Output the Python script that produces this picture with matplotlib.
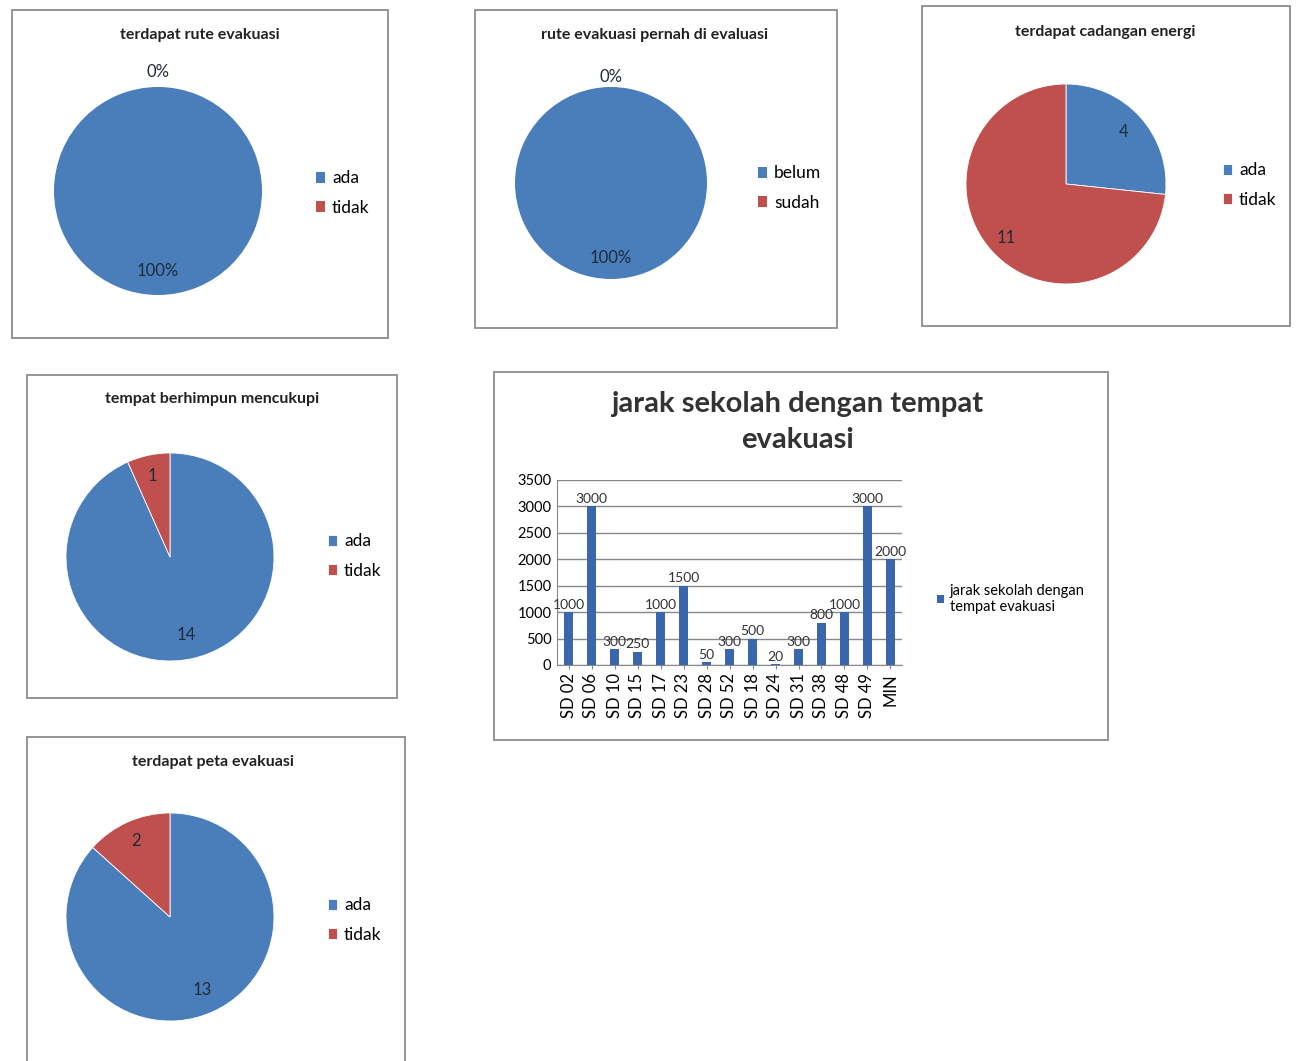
import matplotlib
matplotlib.use("Agg")
import matplotlib.pyplot as plt
from matplotlib.patches import Rectangle
import numpy as np

plt.rcParams['font.family'] = ['Lato', 'DejaVu Sans']

W, H = 1298, 1061
BLUE = '#4A7EBB'
RED = '#C0504D'
BAR_BLUE = '#3A66AC'

# --- data ---
rute_names = ['ada', 'tidak']
rute_vals = [100, 0]
evaluasi_names = ['belum', 'sudah']
evaluasi_vals = [100, 0]
energi_names = ['ada', 'tidak']
energi_vals = [4, 11]
himpun_names = ['ada', 'tidak']
himpun_vals = [14, 1]
peta_names = ['ada', 'tidak']
peta_vals = [13, 2]

sekolah = ['SD 02', 'SD 06', 'SD 10', 'SD 15', 'SD 17', 'SD 23', 'SD 28', 'SD 52',
           'SD 18', 'SD 24', 'SD 31', 'SD 38', 'SD 48', 'SD 49', 'MIN']
jarak = [1000, 3000, 300, 250, 1000, 1500, 50, 300, 500, 20, 300, 800, 1000, 3000, 2000]


def fx(x):
    return x / W


def fy(y):
    return 1 - y / H


fig = plt.figure(figsize=(W / 100, H / 100), dpi=100)


def box(x0, y0, x1, y1):
    fig.add_artist(Rectangle((fx(x0), fy(y1)), fx(x1) - fx(x0), fy(y0) - fy(y1),
                             transform=fig.transFigure, fill=False,
                             edgecolor='#8c8c8c', linewidth=1.3))


def pie_panel(bx, title, title_xy, cx, cy, r, names, vals, texts, dists, legend_xy):
    box(*bx)
    fig.text(fx(title_xy[0]), fy(title_xy[1]), title, ha='center', va='center',
             fontsize=11.5, fontweight='bold', color='#222222')
    ax = fig.add_axes([fx(cx - r), fy(cy + r), 2 * r / W, 2 * r / H])
    lw = 0 if min(vals) == 0 else 0.6
    wedges, _ = ax.pie(vals, colors=[BLUE, RED], startangle=90, counterclock=False,
                       wedgeprops=dict(edgecolor='white', linewidth=lw))
    ax.set_xlim(-1, 1)
    ax.set_ylim(-1, 1)
    for w, t, d in zip(wedges, texts, dists):
        ang = np.deg2rad((w.theta1 + w.theta2) / 2)
        ax.text(d * np.cos(ang), d * np.sin(ang), t, ha='center', va='center',
                fontsize=12, color='#1f2a3a')
    fig.legend(wedges, names, loc='center left',
               bbox_to_anchor=(fx(legend_xy[0]), fy(legend_xy[1])),
               frameon=False, fontsize=12.5, handlelength=0.55, handleheight=0.55,
               handletextpad=0.4, labelspacing=0.75)


pie_panel((12, 10, 388, 338), 'terdapat rute evakuasi', (200, 35), 158, 191, 104,
          rute_names, rute_vals, ['100%', '0%'], [0.77, 1.14], (300, 193))
pie_panel((475, 10, 837, 328), 'rute evakuasi pernah di evaluasi', (655, 35), 611, 183, 96,
          evaluasi_names, evaluasi_vals, ['100%', '0%'], [0.78, 1.1], (742, 188))
pie_panel((922, 6, 1290, 326), 'terdapat cadangan energi', (1105, 32), 1066, 184, 100,
          energi_names, energi_vals, [str(v) for v in energi_vals], [0.78, 0.8], (1207, 185))
pie_panel((27, 375, 397, 698), 'tempat berhimpun mencukupi', (212, 399), 170, 557, 104,
          himpun_names, himpun_vals, [str(v) for v in himpun_vals], [0.77, 0.8], (312, 556))
pie_panel((27, 737, 405, 1075), 'terdapat peta evakuasi', (213, 762), 170, 917, 104,
          peta_names, peta_vals, [str(v) for v in peta_vals], [0.77, 0.8], (312, 920))

# --- bar chart ---
box(494, 372, 1108, 740)
fig.text(fx(797), fy(422), 'jarak sekolah dengan tempat\nevakuasi', ha='center', va='center',
         fontsize=21, fontweight='bold', color='#333333', linespacing=1.5)
ax = fig.add_axes([fx(557), fy(665), (902 - 557) / W, (665 - 480) / H])
bars = ax.bar(range(len(sekolah)), jarak, width=0.4, color=BAR_BLUE,
              label='jarak sekolah dengan\ntempat evakuasi')
ax.bar_label(bars, fontsize=10, padding=1, color='#333333')
ax.set_ylim(0, 3500)
ax.set_yticks(range(0, 3501, 500))
ax.set_xlim(-0.5, len(sekolah) - 0.5)
ax.set_xticks(range(len(sekolah)))
ax.set_xticklabels(sekolah, rotation=90, fontsize=12)
ax.tick_params(axis='y', labelsize=10.5, length=0, pad=4)
ax.tick_params(axis='x', length=3, color='#888888', pad=3)
ax.grid(axis='y', color='#888888', linewidth=1)
ax.set_axisbelow(True)
for s in ['top', 'right']:
    ax.spines[s].set_visible(False)
ax.spines['left'].set_color('#888888')
ax.spines['bottom'].set_color('#888888')
fig.legend(loc='center left', bbox_to_anchor=(fx(924), fy(599)), frameon=False,
           fontsize=10.5, handlelength=0.45, handleheight=0.45, handletextpad=0.4)

fig.savefig('out.png', dpi=100)
